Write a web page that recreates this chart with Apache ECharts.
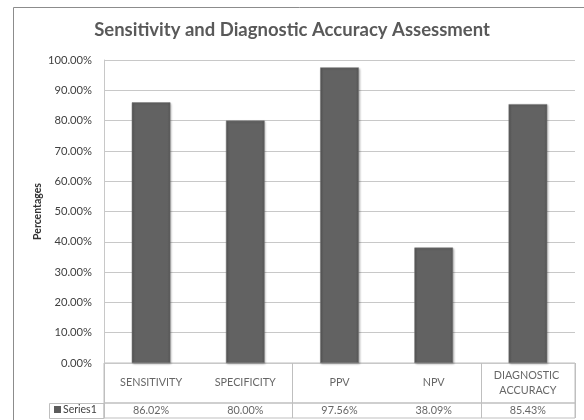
<!DOCTYPE html>
<html><head><meta charset="utf-8">
<script src="https://cdn.jsdelivr.net/npm/echarts@6/dist/echarts.min.js"></script>
<style>html,body{margin:0;padding:0;background:#fff}#c{width:584px;height:420px}</style>
</head><body><div id="c"></div>
<script>
const categories = ['SENSITIVITY','SPECIFICITY','PPV','NPV','DIAGNOSTIC ACCURACY'];
const values = [86.02, 80.00, 97.56, 38.09, 85.43];
const seriesName = 'Series1';
const yTicks = [0,10,20,30,40,50,60,70,80,90,100];

const FONT = 'Lato';
const TXT = '#404040';
const chart = echarts.init(document.getElementById('c'));
const fmt = v => v.toFixed(2) + '%';

chart.setOption({
  animation: false,
  textStyle: {fontFamily: FONT},
  title: {text: 'Sensitivity and Diagnostic Accuracy Assessment', left: 'center', top: 16,
    textStyle: {fontFamily: FONT, fontWeight: 'bold', fontSize: 18.5, color: '#595959'}},
  grid: [
    {left: 104, top: 60, width: 471, height: 303},
    {left: 104, top: 363, width: 471, height: 40, show: true, borderColor: '#bfbfbf', borderWidth: 1},
    {left: 104, top: 403, width: 471, height: 15, show: true, borderColor: '#bfbfbf', borderWidth: 1}
  ],
  xAxis: [
    {gridIndex: 0, type: 'category', data: categories, axisLine: {show: false}, axisTick: {show: false}, axisLabel: {show: false}},
    {gridIndex: 1, type: 'category', data: categories, axisLine: {show: false}, axisTick: {show: false}, axisLabel: {show: false},
      splitLine: {show: true, lineStyle: {color: '#bfbfbf'}}},
    {gridIndex: 2, type: 'category', data: categories, axisLine: {show: false}, axisTick: {show: false}, axisLabel: {show: false},
      splitLine: {show: true, lineStyle: {color: '#bfbfbf'}}}
  ],
  yAxis: [
    {gridIndex: 0, type: 'value', min: 0, max: 100, interval: 10,
      name: 'Percentages', nameLocation: 'middle', nameGap: 61, nameMoveOverlap: false,
      nameTextStyle: {fontFamily: FONT, fontWeight: 'bold', fontSize: 10.5, color: '#303030'},
      axisLine: {show: true, lineStyle: {color: '#c8c8c8'}}, axisTick: {show: false},
      axisLabel: {formatter: v => fmt(v), fontSize: 11.2, color: TXT, margin: 12, fontFamily: FONT},
      splitLine: {lineStyle: {color: '#c8c8c8', width: 1}}},
    {gridIndex: 1, type: 'value', min: 0, max: 1, show: false},
    {gridIndex: 2, type: 'value', min: 0, max: 1, show: false}
  ],
  graphic: [
    {type: 'rect', shape: {x: 13.5, y: 7.5, width: 600, height: 450}, style: {fill: 'none', stroke: '#8c8c8c', lineWidth: 1}, silent: true, z: -1},
    {type: 'rect', shape: {x: 49.5, y: 403.5, width: 54.5, height: 15}, style: {fill: 'none', stroke: '#bfbfbf', lineWidth: 1}},
    {type: 'rect', shape: {x: 54, y: 406, width: 7, height: 7}, style: {fill: '#5c5c5c'}},
    {type: 'text', left: 63, top: 404, style: {text: seriesName, font: '10.5px Lato', fill: TXT}}
  ],
  series: [
    {type: 'bar', name: seriesName, xAxisIndex: 0, yAxisIndex: 0, data: values, barWidth: '41%',
      itemStyle: {color: {type: 'linear', x: 0, y: 0, x2: 1, y2: 0, colorStops: [
        {offset: 0, color: '#555'}, {offset: 0.08, color: '#626262'}, {offset: 0.92, color: '#626262'}, {offset: 1, color: '#555'}]},
        borderColor: '#777', borderWidth: 0.5,
        shadowColor: 'rgba(0,0,0,0.25)', shadowBlur: 2, shadowOffsetX: 1, shadowOffsetY: 1}},
    {type: 'scatter', xAxisIndex: 1, yAxisIndex: 1, symbolSize: 0,
      data: categories.map(c => [c, 0.5]),
      label: {show: true, position: 'inside', formatter: p => p.value[0], fontSize: 10.8, color: TXT, fontFamily: FONT,
        width: 85, overflow: 'break', align: 'center', lineHeight: 15}},
    {type: 'scatter', xAxisIndex: 2, yAxisIndex: 2, symbolSize: 0,
      data: categories.map((c, i) => [c, 0.5, values[i]]),
      label: {show: true, position: 'inside', formatter: p => fmt(p.value[2]), fontSize: 10.8, color: TXT, fontFamily: FONT}}
  ]
});
</script></body></html>
